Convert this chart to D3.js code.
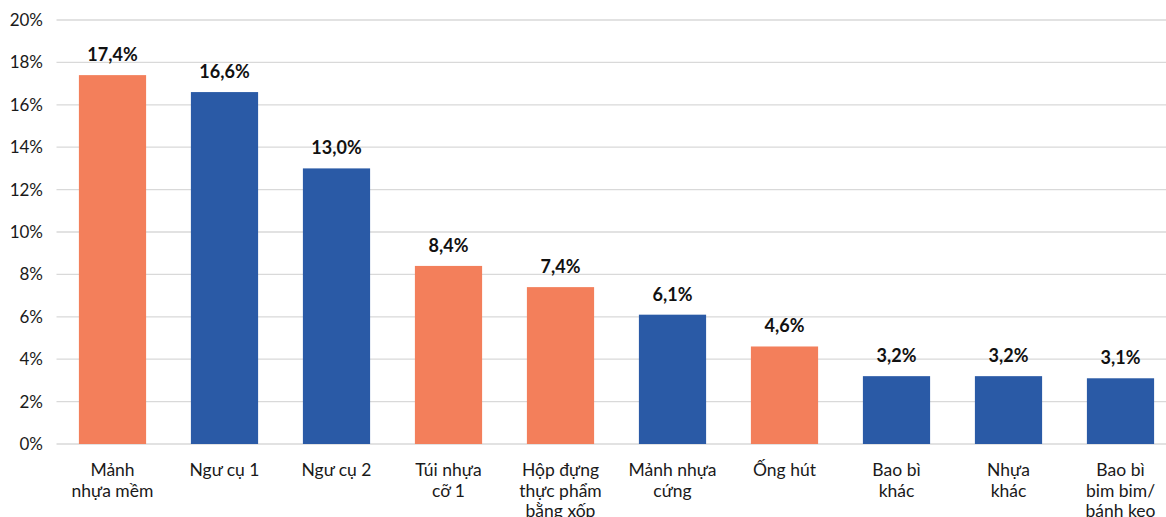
<!DOCTYPE html>
<html>
<head>
<meta charset="utf-8">
<script src="https://cdn.jsdelivr.net/npm/d3@7"></script>
<style>
  html, body { margin: 0; padding: 0; background: #fff; }
  svg text { font-family: Lato, "Open Sans", sans-serif; }
</style>
</head>
<body>
<svg id="chart" width="1166" height="517"></svg>
<script>
const categories = [
  ["Mảnh", "nhựa mềm"],
  ["Ngư cụ 1"],
  ["Ngư cụ 2"],
  ["Túi nhựa", "cỡ 1"],
  ["Hộp đựng", "thực phẩm", "bằng xốp"],
  ["Mảnh nhựa", "cứng"],
  ["Ống hút"],
  ["Bao bì", "khác"],
  ["Nhựa", "khác"],
  ["Bao bì", "bim bim/", "bánh kẹo"]
];
const values = [17.4, 16.6, 13.0, 8.4, 7.4, 6.1, 4.6, 3.2, 3.2, 3.1];
const groups = ["o", "b", "b", "o", "o", "b", "o", "b", "b", "b"];
const yTicks = [0, 2, 4, 6, 8, 10, 12, 14, 16, 18, 20];
const colors = { o: "#F37F5B", b: "#2A5AA6" };

const svg = d3.select("#chart");
const x0 = 56.5, x1 = 1176.5, yTop = 20, yBot = 444;

const x = d3.scaleBand().domain(d3.range(categories.length)).range([x0, x1]).paddingInner(0.4).paddingOuter(0.2);
const y = d3.scaleLinear().domain([0, 20]).range([yBot, yTop]);

// gridlines
svg.append("g").selectAll("line").data(yTicks).join("line")
  .attr("x1", x0).attr("x2", x1)
  .attr("y1", d => y(d)).attr("y2", d => y(d))
  .attr("stroke", "#d9d9d9").attr("stroke-width", 1.3);

// y axis labels
const yAxis = d3.axisLeft(y).tickValues(yTicks).tickFormat(d => d + "%").tickSize(0).tickPadding(0);
const ya = svg.append("g").attr("transform", `translate(43,0)`).call(yAxis);
ya.select(".domain").remove();
ya.selectAll("text").attr("font-size", 17).attr("fill", "#1a1a1a").attr("font-family", "Lato, 'Open Sans', sans-serif");

// bars
svg.append("g").selectAll("rect").data(values).join("rect")
  .attr("x", (d, i) => x(i)).attr("width", x.bandwidth())
  .attr("y", d => y(d)).attr("height", d => y(0) - y(d))
  .attr("fill", (d, i) => colors[groups[i]]);

// value labels
svg.append("g").selectAll("text").data(values).join("text")
  .attr("x", (d, i) => x(i) + x.bandwidth() / 2)
  .attr("y", d => y(d) - 14)
  .attr("text-anchor", "middle")
  .attr("font-size", 18).attr("font-weight", "bold").attr("fill", "#111")
  .text(d => d.toFixed(1).replace(".", ",") + "%");

// category labels
const cl = svg.append("g").selectAll("text").data(categories).join("text")
  .attr("x", (d, i) => x(i) + x.bandwidth() / 2)
  .attr("y", 476)
  .attr("text-anchor", "middle")
  .attr("font-size", 17.5).attr("fill", "#1a1a1a");
cl.selectAll("tspan").data((d, i) => d.map(t => ({ t, i }))).join("tspan")
  .attr("x", d => x(d.i) + x.bandwidth() / 2)
  .attr("dy", (d, j) => j === 0 ? 0 : 20.5)
  .text(d => d.t);
</script>
</body>
</html>
